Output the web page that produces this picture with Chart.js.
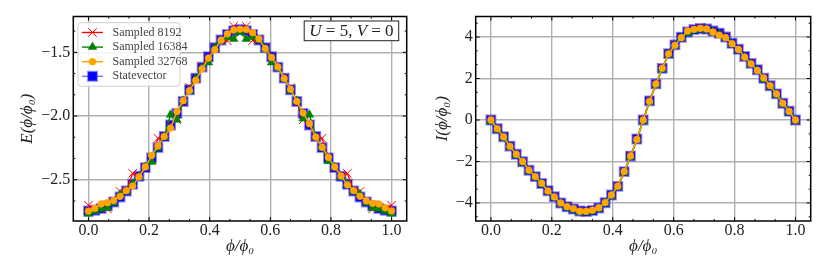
<!DOCTYPE html>
<html>
<head>
<meta charset="UTF-8">
<title>Energy and current vs flux</title>
<script src="https://cdn.jsdelivr.net/npm/chart.js"></script>
<style>
    body { margin: 0; background: #fff; }
    canvas { position: absolute; top: 0; }
    #energy_chart { left: 0; }
    #current_chart { left: 415px; }
</style>
</head>
<body>
<canvas id="energy_chart" width="415" height="277"></canvas>
<canvas id="current_chart" width="415" height="277"></canvas>
<script>
// flux points phi/phi0 (49 points, step 1/48)
var phi = [0, 0.0208, 0.0417, 0.0625, 0.0833, 0.1042, 0.125, 0.1458, 0.1667, 0.1875,
    0.2083, 0.2292, 0.25, 0.2708, 0.2917, 0.3125, 0.3333, 0.3542, 0.375, 0.3958,
    0.4167, 0.4375, 0.4583, 0.4792, 0.5, 0.5208, 0.5417, 0.5625, 0.5833, 0.6042,
    0.625, 0.6458, 0.6667, 0.6875, 0.7083, 0.7292, 0.75, 0.7708, 0.7917, 0.8125,
    0.8333, 0.8542, 0.875, 0.8958, 0.9167, 0.9375, 0.9583, 0.9792, 1];

// E(phi/phi0)
var eSampled8192 = [-2.700, -2.738, -2.722, -2.728, -2.672, -2.592, -2.590, -2.450, -2.470, -2.402,
    -2.335, -2.175, -2.165, -2.068, -2.030, -1.890, -1.775, -1.705, -1.612, -1.540,
    -1.460, -1.400, -1.410, -1.295, -1.322, -1.295, -1.408, -1.400, -1.465, -1.532,
    -1.618, -1.700, -1.778, -1.890, -2.030, -2.068, -2.165, -2.175, -2.335, -2.402,
    -2.470, -2.450, -2.590, -2.592, -2.672, -2.728, -2.722, -2.738, -2.700];
var eSampled16384 = [-2.767, -2.745, -2.728, -2.720, -2.680, -2.615, -2.592, -2.532, -2.478, -2.398,
    -2.360, -2.250, -2.165, -1.990, -2.030, -1.880, -1.800, -1.705, -1.620, -1.580,
    -1.465, -1.410, -1.380, -1.395, -1.340, -1.395, -1.378, -1.405, -1.470, -1.580,
    -1.622, -1.705, -1.800, -1.880, -2.020, -1.990, -2.162, -2.250, -2.355, -2.400,
    -2.478, -2.532, -2.592, -2.612, -2.680, -2.720, -2.728, -2.745, -2.767];
var eSampled32768 = [-2.746, -2.725, -2.690, -2.680, -2.663, -2.631, -2.585, -2.550, -2.478, -2.400,
    -2.310, -2.235, -2.160, -2.095, -1.965, -1.880, -1.800, -1.720, -1.630, -1.545,
    -1.480, -1.405, -1.355, -1.325, -1.318, -1.322, -1.345, -1.395, -1.470, -1.540,
    -1.615, -1.705, -1.790, -1.885, -1.975, -2.060, -2.165, -2.245, -2.325, -2.400,
    -2.470, -2.540, -2.585, -2.630, -2.665, -2.685, -2.690, -2.720, -2.745];
var eStatevector = [-2.745, -2.740, -2.727, -2.705, -2.675, -2.636, -2.589, -2.535, -2.473, -2.405,
    -2.329, -2.248, -2.161, -2.071, -1.980, -1.886, -1.794, -1.703, -1.616, -1.535,
    -1.463, -1.403, -1.359, -1.330, -1.320, -1.330, -1.359, -1.403, -1.463, -1.535,
    -1.616, -1.703, -1.794, -1.886, -1.980, -2.071, -2.161, -2.248, -2.329, -2.405,
    -2.473, -2.535, -2.589, -2.636, -2.675, -2.705, -2.727, -2.740, -2.745];

// I(phi/phi0)
var iSampled8192 = [0.05, -0.45, -0.79, -1.29, -1.63, -2.04, -2.40, -2.76, -3.04, -3.44,
    -3.68, -4.03, -4.16, -4.31, -4.37, -4.43, -4.34, -4.27, -3.96, -3.65,
    -3.18, -2.52, -1.71, -0.95, 0.03, 0.95, 1.71, 2.52, 3.18, 3.65,
    3.96, 4.27, 4.38, 4.45, 4.37, 4.31, 4.16, 4.03, 3.68, 3.44,
    3.04, 2.76, 2.40, 2.04, 1.63, 1.29, 0.79, 0.45, -0.05];
var iSampled16384 = [-0.06, -0.47, -0.86, -1.30, -1.70, -2.05, -2.46, -2.77, -3.10, -3.45,
    -3.74, -4.04, -4.22, -4.33, -4.44, -4.45, -4.40, -4.28, -4.03, -3.66,
    -3.24, -2.53, -1.78, -0.97, -0.04, 0.88, 1.70, 2.45, 3.16, 3.58,
    3.95, 4.20, 4.32, 4.37, 4.35, 4.25, 4.14, 3.96, 3.66, 3.37,
    3.02, 2.69, 2.38, 1.97, 1.61, 1.22, 0.77, 0.38, -0.04];
var iSampled32768 = [0, -0.42, -0.81, -1.27, -1.65, -2.00, -2.42, -2.73, -3.05, -3.42,
    -3.71, -4.00, -4.18, -4.27, -4.40, -4.40, -4.35, -4.23, -3.98, -3.61,
    -3.19, -2.48, -1.73, -0.94, 0.00, 0.90, 1.74, 2.50, 3.19, 3.60,
    3.97, 4.29, 4.37, 4.42, 4.39, 4.24, 4.08, 3.97, 3.68, 3.40,
    3.03, 2.71, 2.39, 2.03, 1.66, 1.26, 0.81, 0.42, 0.00];
var iStatevector = [0, -0.42, -0.81, -1.26, -1.65, -2.01, -2.42, -2.73, -3.06, -3.41,
    -3.70, -4.00, -4.18, -4.29, -4.39, -4.41, -4.36, -4.24, -3.99, -3.62,
    -3.20, -2.49, -1.74, -0.92, 0, 0.92, 1.74, 2.49, 3.20, 3.62,
    3.99, 4.24, 4.36, 4.41, 4.39, 4.29, 4.18, 4.00, 3.70, 3.41,
    3.06, 2.73, 2.42, 2.01, 1.65, 1.26, 0.81, 0.42, 0];

var seriesLabels = ['Sampled 8192', 'Sampled 16384', 'Sampled 32768', 'Statevector'];
var xTicks = [0, 0.2, 0.4, 0.6, 0.8, 1.0];
var eTicks = [-2.5, -2.0, -1.5];
var iTicks = [-4, -2, 0, 2, 4];

var serif = "'Liberation Serif', 'DejaVu Serif', serif";

function pairs(ys) {
    return ys.map(function (y, i) { return {x: phi[i], y: y}; });
}

function minusSign(s) {
    return s.replace('-', '\u2212');
}

function makeDatasets(s1, s2, s3, sv) {
    return [
        {label: seriesLabels[0], data: pairs(s1), borderColor: '#ff0000', borderWidth: 1.4,
         pointStyle: 'crossRot', pointRadius: 6, pointBorderWidth: 1,
         pointBorderColor: '#ff0000', pointBackgroundColor: '#ff0000', order: 2},
        {label: seriesLabels[1], data: pairs(s2), borderColor: '#008000', borderWidth: 1.4,
         pointStyle: 'triangle', pointRadius: 5, pointBorderWidth: 0.5,
         pointBorderColor: '#008000', pointBackgroundColor: '#008000', order: 1},
        {label: seriesLabels[2], data: pairs(s3), borderColor: '#ffa500', borderWidth: 1.4,
         pointStyle: 'circle', pointRadius: 3.4, pointBorderWidth: 0.5,
         pointBorderColor: '#ffa500', pointBackgroundColor: '#ffa500', order: 0},
        {label: seriesLabels[3], data: pairs(sv), borderColor: 'rgba(0,0,255,0.55)', borderWidth: 1.4,
         pointStyle: 'rect', pointRadius: 6.3, pointBorderWidth: 2,
         pointBorderColor: 'rgba(30,30,255,0.5)', pointBackgroundColor: '#0000ff', order: 3}
    ];
}

// marker shapes, same geometry as chart.js point styles
function drawMarker(ctx, ds, x, y) {
    var r = ds.pointRadius;
    ctx.save();
    ctx.fillStyle = ds.pointBackgroundColor;
    ctx.strokeStyle = ds.pointBorderColor;
    ctx.lineWidth = ds.pointBorderWidth;
    ctx.beginPath();
    if (ds.pointStyle === 'crossRot') {
        var d = r * Math.SQRT1_2;
        ctx.moveTo(x - d, y - d); ctx.lineTo(x + d, y + d);
        ctx.moveTo(x - d, y + d); ctx.lineTo(x + d, y - d);
        ctx.stroke();
    } else if (ds.pointStyle === 'triangle') {
        ctx.moveTo(x, y - r);
        ctx.lineTo(x + 0.866 * r, y + 0.5 * r);
        ctx.lineTo(x - 0.866 * r, y + 0.5 * r);
        ctx.closePath();
        ctx.fill(); ctx.stroke();
    } else if (ds.pointStyle === 'circle') {
        ctx.arc(x, y, r, 0, Math.PI * 2);
        ctx.fill(); ctx.stroke();
    } else {
        var s = r * Math.SQRT1_2;
        ctx.rect(x - s, y - s, 2 * s, 2 * s);
        ctx.fill(); ctx.stroke();
    }
    ctx.restore();
}

// black frame with inward major/minor ticks on all four sides
var framePlugin = {
    id: 'frame',
    afterDraw: function (chart) {
        var ctx = chart.ctx, a = chart.chartArea;
        var xs = chart.scales.x, ys = chart.scales.y;
        ctx.save();
        ctx.strokeStyle = '#000';
        ctx.lineWidth = 1;
        function seg(x1, y1, x2, y2) {
            ctx.beginPath(); ctx.moveTo(x1, y1); ctx.lineTo(x2, y2); ctx.stroke();
        }
        function ticksFor(scale, majors, horizontal) {
            var step = (majors[1] - majors[0]) / 3;
            var start = majors[0] - 3 * step, end = majors[majors.length - 1] + 3 * step;
            for (var v = start; v <= end + 1e-9; v += step) {
                if (v < scale.min - 1e-9 || v > scale.max + 1e-9) continue;
                var k = Math.round((v - majors[0]) / step);
                var len = (k % 3 === 0) ? 4 : 2;
                var p = scale.getPixelForValue(v);
                if (horizontal) {
                    seg(p, a.bottom, p, a.bottom - len);
                    seg(p, a.top, p, a.top + len);
                } else {
                    seg(a.left, p, a.left + len, p);
                    seg(a.right, p, a.right - len, p);
                }
            }
        }
        ticksFor(xs, chart.options.plugins.frame.xMajor, true);
        ticksFor(ys, chart.options.plugins.frame.yMajor, false);
        ctx.lineWidth = 1.5;
        ctx.strokeRect(a.left, a.top, a.right - a.left, a.bottom - a.top);
        ctx.restore();
    }
};

var legendPlugin = {
    id: 'seriesKey',
    afterDraw: function (chart) {
        var ctx = chart.ctx, a = chart.chartArea;
        var x0 = a.left + 4.7, y0 = a.top + 6.2, w = 102, h = 63.5;
        ctx.save();
        ctx.beginPath();
        ctx.roundRect(x0, y0, w, h, 3);
        ctx.fillStyle = 'rgba(255,255,255,0.85)';
        ctx.fill();
        ctx.strokeStyle = '#d0d0d0';
        ctx.lineWidth = 1;
        ctx.stroke();
        chart.data.datasets.forEach(function (ds, i) {
            var y = y0 + 9.8 + i * 14.6;
            ctx.strokeStyle = ds.borderColor;
            ctx.lineWidth = ds.borderWidth;
            ctx.beginPath(); ctx.moveTo(x0 + 4, y); ctx.lineTo(x0 + 25, y); ctx.stroke();
            drawMarker(ctx, ds, x0 + 14.5, y);
            ctx.fillStyle = '#444';
            ctx.font = '12px ' + serif;
            ctx.textBaseline = 'middle';
            ctx.textAlign = 'left';
            ctx.fillText(ds.label, x0 + 34.5, y);
        });
        ctx.restore();
    }
};

var paramPlugin = {
    id: 'paramBox',
    afterDraw: function (chart) {
        var ctx = chart.ctx, a = chart.chartArea;
        var parts = [['U', 'italic'], [' = 5, ', 'normal'], ['V', 'italic'], [' = 0', 'normal']];
        ctx.save();
        var total = 0;
        parts.forEach(function (p) {
            ctx.font = p[1] + ' 17px ' + serif;
            p.push(ctx.measureText(p[0]).width);
            total += p[2];
        });
        var right = a.right - 8, top = a.top + 4.5, h = 19.7, w = 94.5;
        ctx.fillStyle = '#fff';
        ctx.fillRect(right - w, top, w, h);
        ctx.strokeStyle = '#222';
        ctx.lineWidth = 1;
        ctx.strokeRect(right - w, top, w, h);
        var x = right - w / 2 - total / 2;
        ctx.fillStyle = '#222';
        ctx.textBaseline = 'middle';
        ctx.textAlign = 'left';
        parts.forEach(function (p) {
            ctx.font = p[1] + ' 17px ' + serif;
            ctx.fillText(p[0], x, top + h / 2 + 1);
            x += p[2];
        });
        ctx.restore();
    }
};

function makePanel(id, datasets, yMin, yMax, yTicks, yDigits, yTitle, yWidth, padRight, extraPlugins) {
    return new Chart(document.getElementById(id).getContext('2d'), {
        type: 'line',
        data: {datasets: datasets},
        options: {
            responsive: false,
            animation: false,
            devicePixelRatio: 1,
            layout: {padding: {top: 16.5, right: padRight, bottom: 0, left: 0}},
            elements: {line: {tension: 0}},
            plugins: {
                legend: {display: false},
                tooltip: {enabled: false},
                frame: {xMajor: xTicks, yMajor: yTicks}
            },
            scales: {
                x: {
                    type: 'linear',
                    min: -0.05,
                    max: 1.05,
                    afterBuildTicks: function (s) { s.ticks = xTicks.map(function (v) { return {value: v}; }); },
                    afterFit: function (s) { s.height = 56; },
                    grid: {color: '#b0b0b0', lineWidth: 1.4, drawTicks: false},
                    border: {display: false},
                    ticks: {
                        padding: 0, color: '#222', maxRotation: 0,
                        font: {family: serif, size: 16},
                        callback: function (v) { return v.toFixed(1); }
                    },
                    title: {
                        display: true, text: 'ϕ/ϕ₀', color: '#222',
                        font: {family: serif, size: 17, style: 'italic'},
                        padding: {top: 0, bottom: 19.8}
                    }
                },
                y: {
                    type: 'linear',
                    min: yMin,
                    max: yMax,
                    afterBuildTicks: function (s) { s.ticks = yTicks.map(function (v) { return {value: v}; }); },
                    afterFit: function (s) { s.width = yWidth; },
                    grid: {color: '#b0b0b0', lineWidth: 1.4, drawTicks: false},
                    border: {display: false},
                    ticks: {
                        padding: 3, color: '#222',
                        font: {family: serif, size: 16},
                        callback: function (v) { return minusSign(v.toFixed(yDigits)); }
                    },
                    title: {
                        display: true, text: yTitle, color: '#222',
                        font: {family: serif, size: 17, style: 'italic'},
                        padding: {top: 17.8, bottom: 0}
                    }
                }
            }
        },
        plugins: [framePlugin].concat(extraPlugins)
    });
}

makePanel('energy_chart', makeDatasets(eSampled8192, eSampled16384, eSampled32768, eStatevector),
    -2.824, -1.219, eTicks, 1, 'E(ϕ/ϕ₀)', 73.3, 7, [legendPlugin, paramPlugin]);
makePanel('current_chart', makeDatasets(iSampled8192, iSampled16384, iSampled32768, iStatevector),
    -4.87, 4.99, iTicks, 0, 'I(ϕ/ϕ₀)', 60.7, 19.3, []);
</script>
</body>
</html>
